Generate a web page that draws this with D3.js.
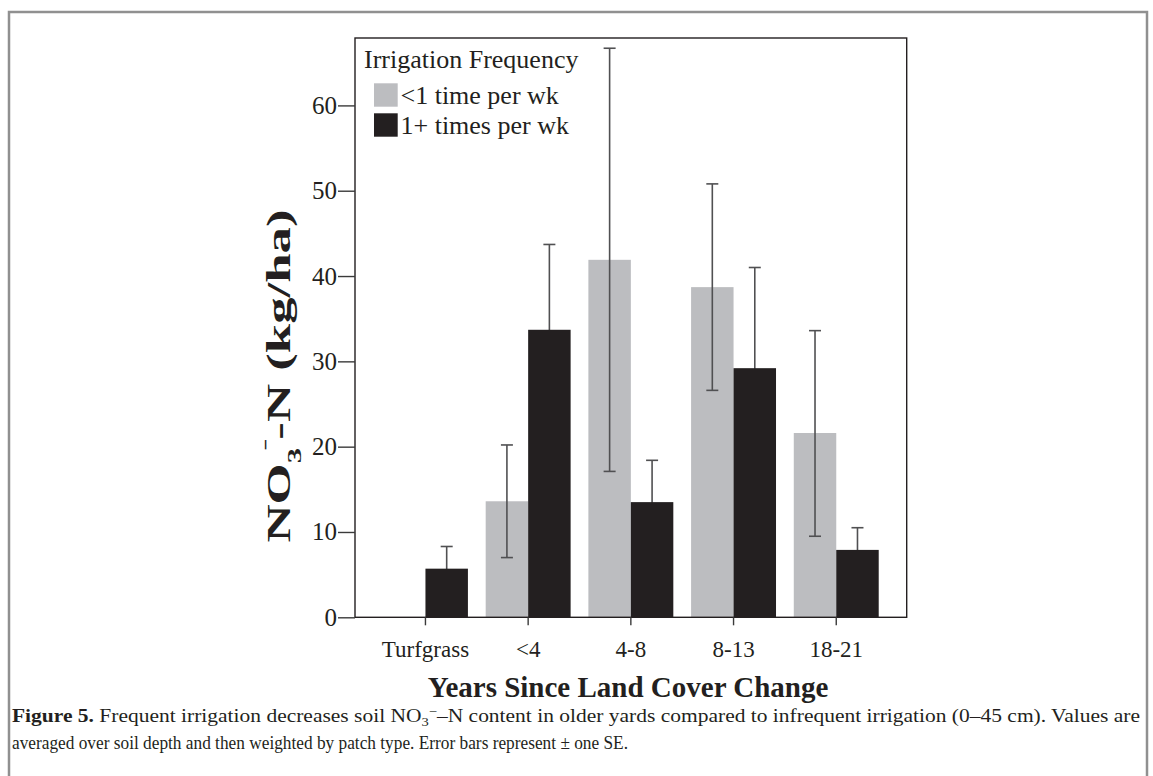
<!DOCTYPE html>
<html>
<head>
<meta charset="utf-8">
<script src="https://cdn.jsdelivr.net/npm/d3@7"></script>
<style>
  html, body { margin: 0; padding: 0; background: #fff; }
  svg { display: block; }
  text { font-family: "Liberation Serif", "Times New Roman", serif; fill: #231f20; }
</style>
</head>
<body>
<svg id="chart" width="1153" height="776"></svg>
<script>
// ---- data ----
const categories = ["Turfgrass", "<4", "4-8", "8-13", "18-21"];
const seriesNames = ["<1 time per wk", "1+ times per wk"];
const seriesColors = ["#bcbdc0", "#231f20"];
const lowFreqMean = [null, 13.6, 41.9, 38.7, 21.6];
const lowFreqErrLow = [null, 7.0, 17.1, 26.6, 9.5];
const lowFreqErrHigh = [null, 20.2, 66.7, 50.8, 33.6];
const highFreqMean = [5.7, 33.7, 13.5, 29.2, 7.9];
const highFreqErrLow = [3.2, 23.8, 8.6, 17.4, 5.3];
const highFreqErrHigh = [8.3, 43.7, 18.4, 41.0, 10.5];
const yTickValues = [0, 10, 20, 30, 40, 50, 60];
const yMax = 67.9;

const svg = d3.select("#chart");

// figure frame
svg.append("rect").attr("x", 9).attr("y", 12).attr("width", 1138).attr("height", 820)
  .attr("fill", "none").attr("stroke", "#909090").attr("stroke-width", 2.5);

const plot = { left: 355, top: 38, right: 906.7, bottom: 617.3 };

const x = d3.scaleBand().domain(categories).range([plot.left, plot.right])
  .paddingInner(0).paddingOuter(0.186);
const groupFrac = 0.827;
const xs = d3.scaleBand().domain(seriesNames)
  .range([x.bandwidth() * (1 - groupFrac) / 2, x.bandwidth() * (1 + groupFrac) / 2]);
const y = d3.scaleLinear().domain([0, yMax]).range([plot.bottom, plot.top]);

const rows = [
  { name: seriesNames[0], color: seriesColors[0], mean: lowFreqMean, lo: lowFreqErrLow, hi: lowFreqErrHigh },
  { name: seriesNames[1], color: seriesColors[1], mean: highFreqMean, lo: highFreqErrLow, hi: highFreqErrHigh }
];

function drawBars(s) {
  svg.append("g").selectAll("rect")
    .data(categories.map((c, i) => ({ c, v: s.mean[i] })).filter(d => d.v != null))
    .join("rect")
    .attr("x", d => x(d.c) + xs(s.name))
    .attr("width", xs.bandwidth())
    .attr("y", d => y(d.v))
    .attr("height", d => y(0) - y(d.v))
    .attr("fill", s.color);
}
function drawErr(s) {
  const g = svg.append("g").attr("stroke", "#505052").attr("stroke-width", 1.6);
  const data = categories.map((c, i) => ({ c, lo: s.lo[i], hi: s.hi[i] })).filter(d => d.lo != null);
  const cx = d => x(d.c) + xs(s.name) + xs.bandwidth() / 2;
  g.selectAll("line.v").data(data).join("line").attr("class", "v")
    .attr("x1", cx).attr("x2", cx).attr("y1", d => y(d.lo)).attr("y2", d => y(d.hi));
  g.selectAll("line.h").data(data).join("line").attr("class", "h")
    .attr("x1", d => cx(d) - 6).attr("x2", d => cx(d) + 6).attr("y1", d => y(d.hi)).attr("y2", d => y(d.hi));
  g.selectAll("line.l").data(data).join("line").attr("class", "l")
    .attr("x1", d => cx(d) - 6).attr("x2", d => cx(d) + 6).attr("y1", d => y(d.lo)).attr("y2", d => y(d.lo));
}
drawBars(rows[0]);
drawErr(rows[0]);
drawErr(rows[1]);
drawBars(rows[1]);

// plot box
svg.append("rect").attr("x", plot.left).attr("y", plot.top)
  .attr("width", plot.right - plot.left).attr("height", plot.bottom - plot.top)
  .attr("fill", "none").attr("stroke", "#231f20").attr("stroke-width", 1.4);

// y axis
const yAxis = svg.append("g").attr("transform", `translate(${plot.left},0)`)
  .call(d3.axisLeft(y).tickValues(yTickValues).tickSize(17).tickPadding(1));
yAxis.select(".domain").remove();
yAxis.selectAll(".tick line").attr("stroke", "#3a3a3a").attr("stroke-width", 1.4);
yAxis.selectAll(".tick text").attr("font-size", 25).attr("font-family", "Liberation Serif").attr("fill", "#231f20");

// x axis
const xAxis = svg.append("g").attr("transform", `translate(0,${plot.bottom})`)
  .call(d3.axisBottom(x).tickSize(8).tickPadding(15));
xAxis.select(".domain").remove();
xAxis.selectAll(".tick line").attr("stroke", "#3a3a3a").attr("stroke-width", 1.4);
xAxis.selectAll(".tick text").attr("font-size", 23).attr("font-family", "Liberation Serif").attr("fill", "#231f20");

// x title
svg.append("text").attr("x", 628).attr("y", 697).attr("text-anchor", "middle")
  .attr("font-size", 29).attr("font-weight", "bold").text("Years Since Land Cover Change");

// y title (stretched along reading direction)
const yt = svg.append("text").attr("text-anchor", "middle")
  .attr("transform", "translate(290,376) rotate(-90) scale(1.6,1)")
  .attr("font-size", 33).attr("font-weight", "bold");
yt.append("tspan").text("NO");
yt.append("tspan").attr("font-size", 19).attr("dy", 11).text("3");
yt.append("tspan").attr("font-size", 19).attr("dy", -24).attr("dx", -1).text("ˉ");
yt.append("tspan").attr("dy", 13).text("-N (kg/ha)");

// legend
svg.append("text").attr("x", 364).attr("y", 68).attr("font-size", 26).text("Irrigation Frequency");
const lg = svg.append("g").selectAll("g").data(rows).join("g")
  .attr("transform", (d, i) => `translate(374,${83.3 + i * 30})`);
lg.append("rect").attr("width", 23.7).attr("height", 23.4).attr("fill", d => d.color);
lg.append("text").attr("x", 26.5).attr("y", 21).attr("font-size", 26).text(d => d.name);

// caption
const cap1 = svg.append("text").attr("x", 12).attr("y", 722).attr("font-size", 18.5)
  .attr("textLength", 1128).attr("lengthAdjust", "spacingAndGlyphs");
cap1.append("tspan").attr("font-weight", "bold").text("Figure 5.");
cap1.append("tspan").text(" Frequent irrigation decreases soil NO");
cap1.append("tspan").attr("font-size", 12.5).attr("dy", 4).text("3");
cap1.append("tspan").attr("font-size", 12.5).attr("dy", -10).text("−");
cap1.append("tspan").attr("dy", 6).text("–N content in older yards compared to infrequent irrigation (0–45 cm). Values are");
svg.append("text").attr("x", 12).attr("y", 749).attr("font-size", 18.5)
  .attr("textLength", 616).attr("lengthAdjust", "spacingAndGlyphs")
  .text("averaged over soil depth and then weighted by patch type. Error bars represent  ±  one SE.");
</script>
</body>
</html>
